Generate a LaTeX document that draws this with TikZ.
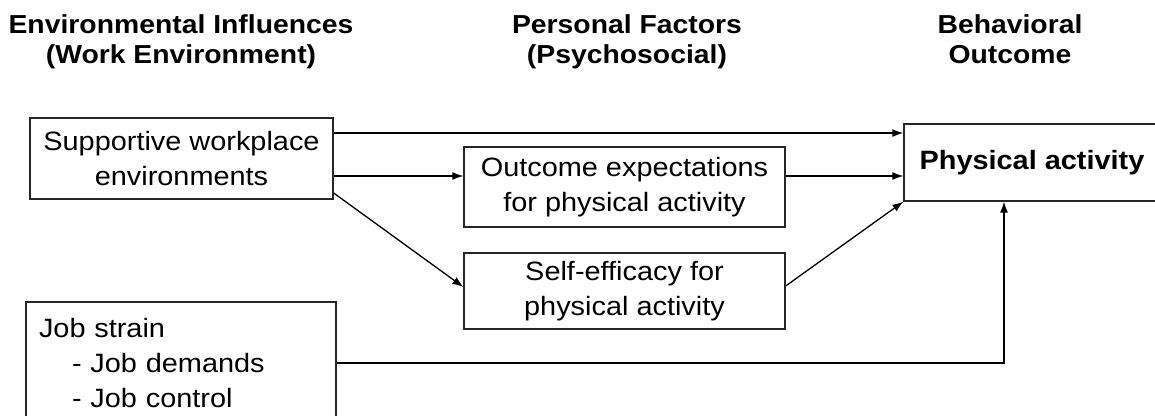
\documentclass[tikz,border=0pt]{standalone}
\usepackage{fontspec}
\setmainfont{Liberation Sans}[FakeStretch=1.09]
\usepackage{tikz}
\usetikzlibrary{arrows.meta}

\begin{document}
\begin{tikzpicture}[x=1pt, y=-1pt,
  box/.style={rectangle, draw=black!85, line width=1.3pt, inner sep=0pt, align=center, font=\fontsize{26.5}{35}\selectfont},
  heading/.style={anchor=north, inner sep=0pt, align=center, font=\bfseries\fontsize{26}{30}\selectfont},
  link/.style={line width=1.3pt, -{Latex[length=11pt, width=8pt]}}]
\useasboundingbox (0,0) rectangle (1155,415);
\clip (0,0) rectangle (1155,415);
% column headings
\node[heading] (envhead) at (181,14) {Environmental Influences\\(Work Environment)};
\node[heading] (perhead) at (627,14) {Personal Factors\\(Psychosocial)};
\node[heading] (outhead) at (1010,14) {Behavioral\\Outcome};
% boxes
\node[box, minimum width=303pt, minimum height=81pt] (sup) at (181.5,158.5) {Supportive workplace\\environments};
\node[box, minimum width=310pt, minimum height=122pt, text width=284pt, inner xsep=13pt, align=left] (job) at (181,363) {Job strain\\\hspace*{33pt}- Job demands\\\hspace*{33pt}- Job control};
\node[box, minimum width=321pt, minimum height=80pt] (out) at (624.5,187) {Outcome expectations\\for physical activity};
\node[box, minimum width=321pt, minimum height=76pt] (self) at (624.5,291) {Self-efficacy for\\physical activity};
\node[box, minimum width=256pt, minimum height=77pt] (phys) at (1032,162.5) {\bfseries Physical activity};
% arrows
\coordinate (suptop) at ([yshift=25.5pt]sup.east);
\coordinate (supmid) at ([yshift=-17.5pt]sup.east);
\draw[link] (suptop) -- (suptop -| phys.west);
\draw[link] (supmid) -- (supmid -| out.west);
\draw[link] (supmid -| out.east) -- (supmid -| phys.west);
\draw[link] ([yshift=-34.5pt]sup.east) -- ([yshift=4pt]self.west);
\draw[link] ([yshift=5pt]self.east) -- (phys.south west);
\draw[link] (job.east) -| ([xshift=-28pt]phys.south);
\end{tikzpicture}
\end{document}
